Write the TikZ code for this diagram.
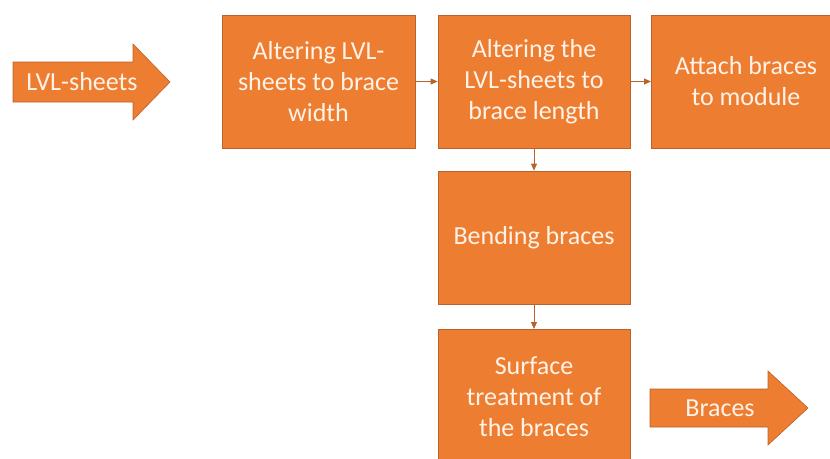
\documentclass[tikz,border=0pt]{standalone}
\usepackage{fontspec}
\setmainfont{Carlito}
\usetikzlibrary{arrows.meta}
\definecolor{boxfill}{HTML}{ED7D31}
\definecolor{boxline}{HTML}{B9622A}
\definecolor{txt}{HTML}{FFF3E8}
\tikzset{txtfont/.style={font=\fontsize{26}{31}\selectfont}}
\begin{document}
\begin{tikzpicture}[x=1pt,y=-1pt,
  stepbox/.style={draw=boxline,line width=0.8pt,fill=boxfill,text=txt,align=center,
     txtfont,inner sep=0pt},
  conn/.style={draw=boxline,line width=0.9pt,-{Triangle[length=7pt,width=6pt]}},
  bigarrow/.style={draw=boxline,line width=0.6pt,fill=boxfill}]
\useasboundingbox (0,0) rectangle (830,458);
\clip (0,0) rectangle (830,458);
% input arrow
\draw[bigarrow] (13,62) -- (133,62) -- (133,44) -- (170,82) -- (133,120) -- (133,102) -- (13,102) -- cycle;
\node[text=txt,txtfont] (in) at (82,82) {LVL-sheets};
% boxes
\node[stepbox,minimum width=193pt,minimum height=133pt] (b1) at (318.5,81.5) {Altering LVL-\\sheets to brace\\width};
\node[stepbox,minimum width=192pt,minimum height=133pt] (b2) at (534,81.5) {Altering the\\LVL-sheets to\\brace length};
\draw[draw=boxline,line width=0.8pt,fill=boxfill] (651,15) rectangle (845,148);
\node[text=txt,align=center,txtfont] (b3) at (746,81.5) {Attach braces\\to module};
\coordinate (b3w) at (651,81.5);
\node[stepbox,minimum width=192pt,minimum height=133pt] (b4) at (534,237.5) {Bending braces};
\draw[draw=boxline,line width=0.8pt,fill=boxfill] (438,329) rectangle (630,470);
\node[text=txt,align=center,txtfont] (b5) at (534,397) {Surface\\treatment of\\the braces};
\coordinate (b5n) at (534,329);
% output arrow
\draw[bigarrow] (650,389) -- (768,389) -- (768,371) -- (808,408) -- (768,445) -- (768,427) -- (650,427) -- cycle;
\node[text=txt,txtfont] (out) at (720,408) {Braces};
% connectors
\draw[conn] (b1.east) -- (b2.west);
\draw[conn] (b2.east) -- (b3w);
\draw[conn] (b2.south) -- (b4.north);
\draw[conn] (b4.south) -- (b5n);
\end{tikzpicture}
\end{document}
